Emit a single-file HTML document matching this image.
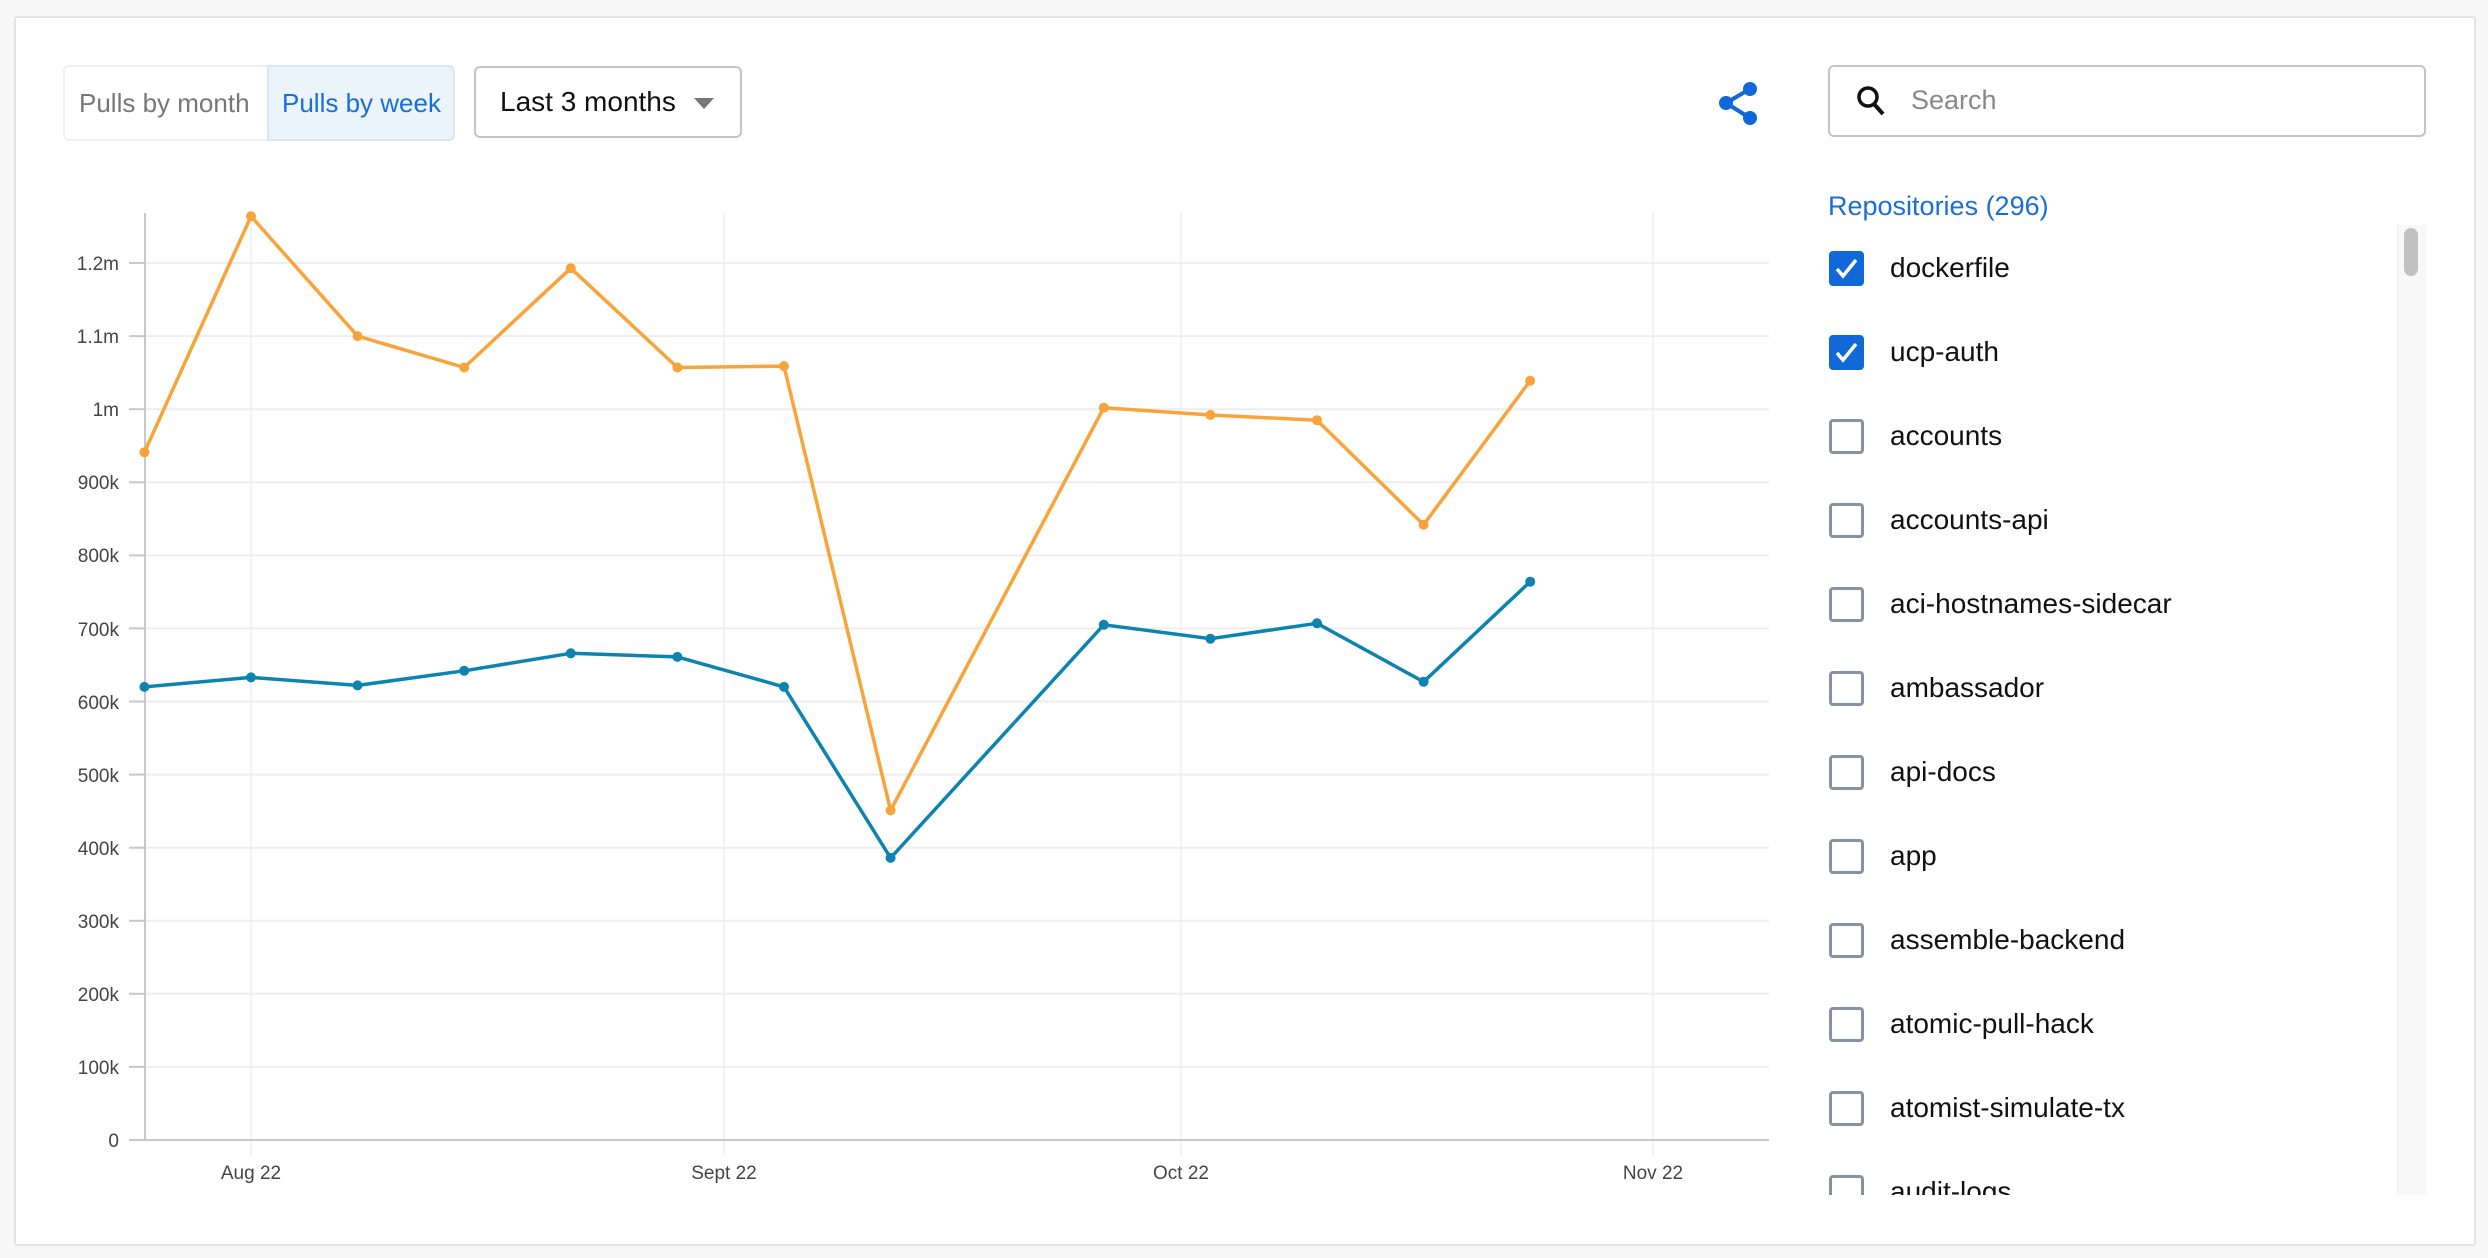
<!DOCTYPE html>
<html><head><meta charset="utf-8"><style>
body{margin:0;width:2488px;height:1258px;background:#f7f7f8;font-family:"Liberation Sans",sans-serif;position:relative;overflow:hidden}
.card{position:absolute;left:14px;top:16px;width:2458px;height:1226px;background:#fff;border:2px solid #e3e3e6;border-radius:3px}
.a{position:absolute;white-space:nowrap}
.cb{position:absolute;left:1829px;width:35px;height:35px;border:3px solid #8791a3;border-radius:4px;box-sizing:border-box;background:#fff}
.cb.on{background:#1168d8;border-color:#1168d8}
.lbl{position:absolute;left:1890px;font-size:28px;color:#111;line-height:34px;white-space:nowrap}
</style></head><body>
<div class="card"></div>
<div class="a" style="left:63px;top:65px;width:390px;height:76px;border:2px solid #eef0f2;border-radius:6px;box-sizing:border-box"></div>
<div class="a" style="left:267px;top:65px;width:188px;height:76px;background:#ebf3fb;border:2px solid #dbe6f3;border-radius:0 6px 6px 0;box-sizing:border-box"></div>
<div class="a" style="left:79px;top:88px;font-size:26px;color:#777">Pulls by month</div>
<div class="a" style="left:282px;top:88px;font-size:26px;color:#1a6ed8">Pulls by week</div>
<div class="a" style="left:474px;top:66px;width:268px;height:72px;border:2px solid #c4c4c4;border-radius:6px;box-sizing:border-box"></div>
<div class="a" style="left:500px;top:86px;font-size:28px;color:#111">Last 3 months</div>
<div class="a" style="left:694px;top:98px;width:0;height:0;border-left:10px solid transparent;border-right:10px solid transparent;border-top:11px solid #777"></div>
<svg class="a" style="left:1710px;top:75px" width="60" height="60"><g fill="#1168d8" stroke="#1168d8" stroke-width="4"><line x1="16" y1="28" x2="40" y2="14"/><line x1="16" y1="28" x2="40" y2="43"/><circle cx="16" cy="28" r="5"/><circle cx="40" cy="14" r="5"/><circle cx="40" cy="43" r="5"/></g></svg>
<div class="a" style="left:1828px;top:65px;width:598px;height:72px;border:2px solid #c4c4c4;border-radius:6px;box-sizing:border-box"></div>
<svg class="a" style="left:1855px;top:83px" width="36" height="36"><circle cx="13" cy="14" r="9" fill="none" stroke="#111" stroke-width="3.5"/><line x1="19" y1="21" x2="28" y2="31" stroke="#111" stroke-width="4"/></svg>
<div class="a" style="left:1911px;top:85px;font-size:27px;color:#888">Search</div>
<div class="a" style="left:1828px;top:191px;font-size:27px;color:#1a6ed8">Repositories (296)</div>
<div class="a" style="left:2397px;top:225px;width:28px;height:970px;background:#f8f8f8;border-left:1px solid #ececec"></div>
<div class="a" style="left:2404px;top:228px;width:14px;height:48px;background:#c1c1c1;border-radius:7px"></div>
<div class="a" style="left:1820px;top:225px;width:570px;height:970px;overflow:hidden">
<div style="position:relative;left:-1820px;top:-225px">
<div class="cb on" style="top:251px"><svg width="29" height="29" style="position:absolute;left:0;top:0"><polyline points="5,15 11,22 24,6" fill="none" stroke="#fff" stroke-width="3.5"/></svg></div><div class="lbl" style="top:251px">dockerfile</div>
<div class="cb on" style="top:335px"><svg width="29" height="29" style="position:absolute;left:0;top:0"><polyline points="5,15 11,22 24,6" fill="none" stroke="#fff" stroke-width="3.5"/></svg></div><div class="lbl" style="top:335px">ucp-auth</div>
<div class="cb" style="top:419px"></div><div class="lbl" style="top:419px">accounts</div>
<div class="cb" style="top:503px"></div><div class="lbl" style="top:503px">accounts-api</div>
<div class="cb" style="top:587px"></div><div class="lbl" style="top:587px">aci-hostnames-sidecar</div>
<div class="cb" style="top:671px"></div><div class="lbl" style="top:671px">ambassador</div>
<div class="cb" style="top:755px"></div><div class="lbl" style="top:755px">api-docs</div>
<div class="cb" style="top:839px"></div><div class="lbl" style="top:839px">app</div>
<div class="cb" style="top:923px"></div><div class="lbl" style="top:923px">assemble-backend</div>
<div class="cb" style="top:1007px"></div><div class="lbl" style="top:1007px">atomic-pull-hack</div>
<div class="cb" style="top:1091px"></div><div class="lbl" style="top:1091px">atomist-simulate-tx</div>
<div class="cb" style="top:1175px"></div><div class="lbl" style="top:1175px">audit-logs</div>
</div></div>
<svg class="a" style="left:0;top:0" width="1800" height="1258" font-family="Liberation Sans, sans-serif" font-size="19" fill="#444">
<g stroke="#efefef" stroke-width="1.5">
<line x1="251" y1="213" x2="251" y2="1155"/><line x1="724" y1="213" x2="724" y2="1155"/><line x1="1181" y1="213" x2="1181" y2="1155"/><line x1="1653" y1="213" x2="1653" y2="1155"/>
</g>
<g stroke="#eeeeee" stroke-width="2">
<line x1="145" y1="1066.9" x2="1769" y2="1066.9"/><line x1="145" y1="993.8" x2="1769" y2="993.8"/><line x1="145" y1="920.8" x2="1769" y2="920.8"/><line x1="145" y1="847.7" x2="1769" y2="847.7"/><line x1="145" y1="774.6" x2="1769" y2="774.6"/><line x1="145" y1="701.5" x2="1769" y2="701.5"/><line x1="145" y1="628.4" x2="1769" y2="628.4"/><line x1="145" y1="555.4" x2="1769" y2="555.4"/><line x1="145" y1="482.3" x2="1769" y2="482.3"/><line x1="145" y1="409.2" x2="1769" y2="409.2"/><line x1="145" y1="336.1" x2="1769" y2="336.1"/><line x1="145" y1="263" x2="1769" y2="263"/>
</g>
<g stroke="#c8c8c8" stroke-width="2">
<line x1="145" y1="213" x2="145" y2="1140"/><line x1="129" y1="1140" x2="1769" y2="1140"/>
<line x1="129" y1="1066.9" x2="145" y2="1066.9"/><line x1="129" y1="993.8" x2="145" y2="993.8"/><line x1="129" y1="920.8" x2="145" y2="920.8"/><line x1="129" y1="847.7" x2="145" y2="847.7"/><line x1="129" y1="774.6" x2="145" y2="774.6"/><line x1="129" y1="701.5" x2="145" y2="701.5"/><line x1="129" y1="628.4" x2="145" y2="628.4"/><line x1="129" y1="555.4" x2="145" y2="555.4"/><line x1="129" y1="482.3" x2="145" y2="482.3"/><line x1="129" y1="409.2" x2="145" y2="409.2"/><line x1="129" y1="336.1" x2="145" y2="336.1"/><line x1="129" y1="263" x2="145" y2="263"/>
</g>
<g text-anchor="end">
<text x="119" y="1147">0</text><text x="119" y="1074">100k</text><text x="119" y="1001">200k</text><text x="119" y="928">300k</text><text x="119" y="855">400k</text><text x="119" y="782">500k</text><text x="119" y="709">600k</text><text x="119" y="636">700k</text><text x="119" y="562">800k</text><text x="119" y="489">900k</text><text x="119" y="416">1m</text><text x="119" y="343">1.1m</text><text x="119" y="270">1.2m</text>
</g>
<g text-anchor="middle"><text x="251" y="1179">Aug 22</text><text x="724" y="1179">Sept 22</text><text x="1181" y="1179">Oct 22</text><text x="1653" y="1179">Nov 22</text></g>
<polyline fill="none" stroke="#f8a43a" stroke-width="3.5" stroke-linejoin="round" points="144.4,452.3 251,216.3 357.6,336.1 464.2,367.5 570.8,268.2 677.4,367.5 784,366.1 890.6,810.4 1103.8,407.7 1210.4,415 1317,420.2 1423.6,524.7 1530.2,380.7"/>
<polyline fill="none" stroke="#0d84b0" stroke-width="3.5" stroke-linejoin="round" points="144.4,686.9 251,677.4 357.6,685.4 464.2,670.8 570.8,653.3 677.4,656.9 784,686.9 890.6,857.9 1103.8,624.8 1210.4,638.7 1317,623.3 1423.6,681.8 1530.2,581.7"/>
<g fill="#f8a43a"><circle cx="144.4" cy="452.3" r="5"/><circle cx="251" cy="216.3" r="5"/><circle cx="357.6" cy="336.1" r="5"/><circle cx="464.2" cy="367.5" r="5"/><circle cx="570.8" cy="268.2" r="5"/><circle cx="677.4" cy="367.5" r="5"/><circle cx="784" cy="366.1" r="5"/><circle cx="890.6" cy="810.4" r="5"/><circle cx="1103.8" cy="407.7" r="5"/><circle cx="1210.4" cy="415" r="5"/><circle cx="1317" cy="420.2" r="5"/><circle cx="1423.6" cy="524.7" r="5"/><circle cx="1530.2" cy="380.7" r="5"/></g>
<g fill="#0d84b0"><circle cx="144.4" cy="686.9" r="5"/><circle cx="251" cy="677.4" r="5"/><circle cx="357.6" cy="685.4" r="5"/><circle cx="464.2" cy="670.8" r="5"/><circle cx="570.8" cy="653.3" r="5"/><circle cx="677.4" cy="656.9" r="5"/><circle cx="784" cy="686.9" r="5"/><circle cx="890.6" cy="857.9" r="5"/><circle cx="1103.8" cy="624.8" r="5"/><circle cx="1210.4" cy="638.7" r="5"/><circle cx="1317" cy="623.3" r="5"/><circle cx="1423.6" cy="681.8" r="5"/><circle cx="1530.2" cy="581.7" r="5"/></g>
</svg>
</body></html>
